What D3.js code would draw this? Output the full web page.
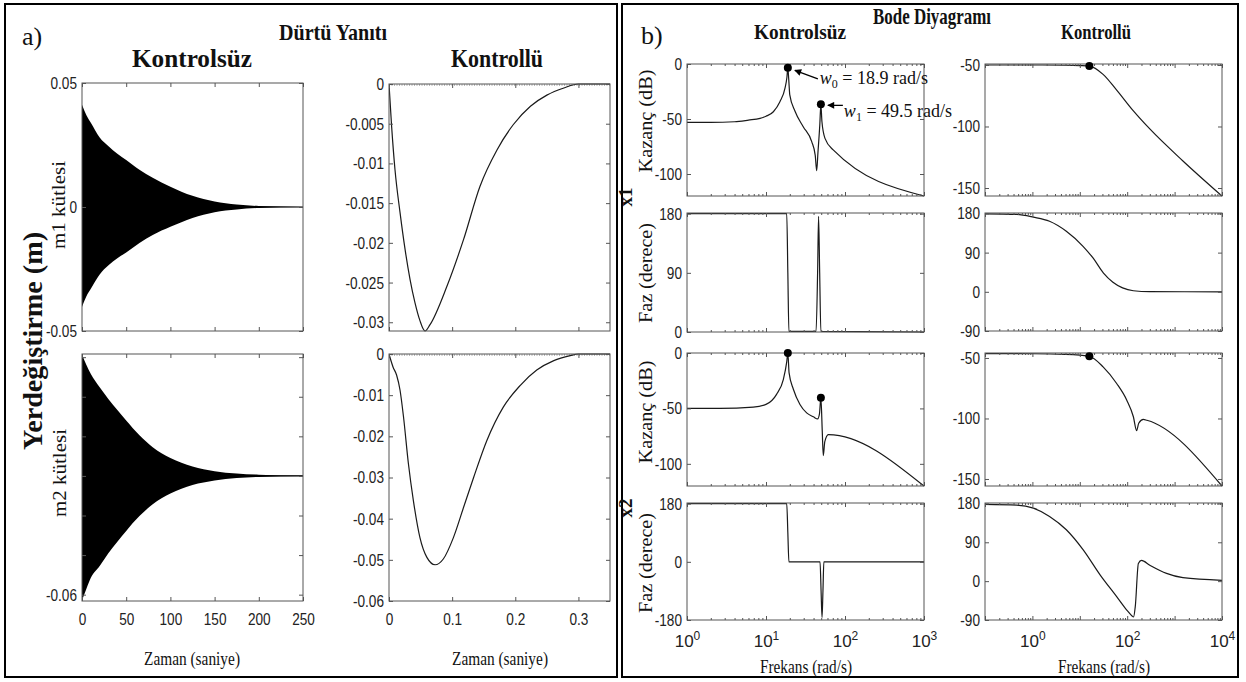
<!DOCTYPE html>
<html><head><meta charset="utf-8">
<script src="https://cdn.jsdelivr.net/npm/d3@7"></script>
<style>
body{margin:0;background:#fff}
svg{display:block}
.ax text{font-family:"Liberation Sans",Arial,sans-serif;font-size:17px;fill:#222}
.ax line{stroke:#555}
.serif{font-family:"Liberation Serif","Times New Roman",serif;fill:#111}
</style>
</head><body>
<svg id="c" width="1246" height="682"></svg>
<script>
// ---------- Impulse response (uncontrolled) envelopes ----------
const tUnc   = [0,5,10,20,30,40,50,65,80,100,125,150,175,200,250];
const m1Upper = [0.0412,0.037,0.034,0.028,0.0245,0.0215,0.019,0.015,0.0118,0.0082,0.0045,0.0022,0.001,0.0004,0.00005];
const m1Lower = [-0.0403,-0.036,-0.033,-0.0272,-0.0235,-0.0207,-0.0183,-0.0145,-0.0113,-0.008,-0.0044,-0.0021,-0.001,-0.0004,-0.00005];
const m2Upper = [0.0614,0.056,0.0515,0.0448,0.0388,0.0333,0.028,0.0205,0.0145,0.0091,0.0048,0.0024,0.0012,0.0006,0.0001];
const m2Lower = [-0.063,-0.057,-0.0515,-0.0455,-0.039,-0.0333,-0.0278,-0.0203,-0.0143,-0.0089,-0.0046,-0.0023,-0.0011,-0.0005,-0.0001];

// ---------- Impulse response (controlled) ----------
const tM1c = [0,0.0042,0.0095,0.0175,0.0254,0.0333,0.041,0.049,0.057,0.065,0.0916,0.118,0.144,0.171,0.197,0.224,0.25,0.277,0.3,0.35];
const m1Ctrl = [0,-0.0054,-0.0108,-0.0162,-0.0208,-0.0246,-0.0275,-0.0298,-0.0311,-0.0303,-0.0255,-0.0196,-0.0129,-0.0083,-0.0051,-0.0028,-0.0014,-0.0005,0,0];
const tM2c = [0,0.0065,0.012,0.0175,0.023,0.0307,0.0386,0.049,0.06,0.073,0.086,0.102,0.118,0.134,0.155,0.181,0.208,0.234,0.261,0.287,0.3,0.35];
const m2Ctrl = [0,-0.0032,-0.0051,-0.0088,-0.0153,-0.0266,-0.0356,-0.0446,-0.0494,-0.0512,-0.0498,-0.0446,-0.0373,-0.03,-0.021,-0.0129,-0.0076,-0.0039,-0.0016,-0.0004,0,0];

// ---------- Bode, uncontrolled ----------
const b1MagF = [1,2,4,6,8.4,10,12.4,15,17.4,18.4,18.9,19.4,20,23.3,29.6,37.9,42,43.8,45.5,48,49.5,51,55.8,70.9,1000];
const b1MagV = [-53,-53,-52.5,-51,-49.4,-47.5,-43.4,-34.3,-22,-12,-3.5,-14,-28,-43,-57,-70.6,-83,-97,-80,-55,-36.7,-52,-67.6,-78,-120];
const b1PhF = [1,18.3,18.9,19.5,43,45,46.3,47.8,49.5,1000];
const b1PhV = [180,180,90,1,1,90,176,90,1,0];
const b2MagF = [1,2.6,6.9,10,13.6,16.6,18.3,18.9,19.6,22.2,26.9,32.7,39.8,45.1,47.5,49.5,51.5,53.1,55.5,61.5,1000];
const b2MagV = [-50,-50,-48.8,-46.4,-37.3,-23.7,-8,0,-18,-32.7,-46.4,-54,-57.6,-59.5,-55,-40.3,-70,-92.7,-80,-73.6,-120];
const b2PhF = [1,18.3,18.9,19.5,48.3,49.8,51.2,52.6,54,1000];
const b2PhV = [180,180,90,0,0,-90,-172,-90,0,0];
const b1Dots = [[18.9,-3.5],[49.5,-36.7]];
const b2Dots = [[18.9,0],[49.5,-40.3]];

// ---------- Bode, controlled ----------
const c1MagF = [0.1,1,5,10,16,31,60,135,300,1500,10000];
const c1MagV = [-50,-50,-50.2,-50.5,-50.9,-57.6,-70.4,-87.3,-102,-128,-156.5];
const c1PhF = [0.1,0.47,1.05,2.3,5.2,11.7,19,31.6,50,80,135,300,10000];
const c1PhV = [179,177.7,171.5,162,139,104.5,77.7,43,22,9,2.5,0.4,0];
const c2MagF = [0.1,1,5,10,16,31,60,98,135,158,175,219,260,10000];
const c2MagV = [-46.4,-46.5,-47,-47.7,-48.6,-57.4,-71.1,-84.9,-98.6,-110,-104,-100.8,-101.5,-155.8];
const c2PhF = [0.1,0.47,1.05,2.3,5.2,11.7,27,60,98,125,136,148,172,200,300,676,1500,10000];
const c2PhV = [178,176,169,150,119,73,14,-36,-67,-80,-83,-59,41,48,37,18,8,2];
const c1Dots = [[15.9,-50.9]];
const c2Dots = [[15.9,-48.6]];

// ---------- tick values / labels ----------
const tTimeUnc = [0,50,100,150,200,250];
const tTimeUncLab = ["0","50","100","150","200","250"];
const tTimeCtl = [0,0.1,0.2,0.3];
const tTimeCtlLab = ["0","0.1","0.2","0.3"];
const yM1u = [-0.05,0,0.05], yM1uLab = ["-0.05","0","0.05"];
const yM2u = [-0.06,-0.04,-0.02,0,0.02,0.04,0.06], yM2uLab = ["-0.06","","","","","",""];
const yM1c = [-0.03,-0.025,-0.02,-0.015,-0.01,-0.005,0], yM1cLab = ["-0.03","-0.025","-0.02","-0.015","-0.01","-0.005","0"];
const yM2c = [-0.06,-0.05,-0.04,-0.03,-0.02,-0.01,0], yM2cLab = ["-0.06","-0.05","-0.04","-0.03","-0.02","-0.01","0"];
const yBmag = [-100,-50,0], yBmagLab = ["-100","-50","0"];
const yB1ph = [0,90,180], yB1phLab = ["0","90","180"];
const yB2ph = [-180,0,180], yB2phLab = ["-180","0","180"];
const yCmag = [-150,-100,-50], yCmagLab = ["-150","-100","-50"];
const yCph = [-90,0,90,180], yCphLab = ["-90","0","90","180"];
const fUnc = [1,10,100,1000], fUncExp = ["0","1","2","3"];
const fCtl = [0.1,1,10,100,1000,10000], fCtlExp = ["","0","","2","","4"];

const svg = d3.select("#c");
svg.append("rect").attr("width",1246).attr("height",682).attr("fill","#fff");

function minorTicks(dom){
  const out=[];
  for(let e=Math.round(Math.log10(dom[0])); e<Math.round(Math.log10(dom[1])); e++)
    for(let k=2;k<=9;k++) out.push(k*Math.pow(10,e));
  return out;
}

let clipN=0;
function panel(o){
  const [L,T,R,B]=o.box;
  const x=(o.log?d3.scaleLog():d3.scaleLinear()).domain(o.xDomain).range([L,R]);
  const y=d3.scaleLinear().domain(o.yDomain).range([B,T]);
  const g=svg.append("g");
  const id="cp"+(clipN++);
  g.append("clipPath").attr("id",id).append("rect").attr("x",L).attr("y",T-1).attr("width",R-L).attr("height",B-T+2);
  const plot=g.append("g").attr("clip-path",`url(#${id})`);
  const axg=g.append("g");
  axg.append("g").attr("class","ax yl").attr("transform",`translate(${L},0)`)
    .call(d3.axisLeft(y).tickValues(o.yTicks).tickSize(-4).tickPadding(5).tickFormat((d,i)=>o.yLabels[i]));
  axg.append("g").attr("class","ax").attr("transform",`translate(${R},0)`)
    .call(d3.axisRight(y).tickValues(o.yTicks).tickSize(-4).tickFormat(""));
  const xb=axg.append("g").attr("class","ax xl").attr("transform",`translate(0,${B})`)
    .call(d3.axisBottom(x).tickValues(o.xTicks).tickSize(-4).tickPadding(o.xPad||12)
      .tickFormat((d,i)=>o.xLabels?o.xLabels[i]:""));
  axg.append("g").attr("class","ax").attr("transform",`translate(0,${T})`)
    .call(d3.axisTop(x).tickValues(o.xTicks).tickSize(-4).tickFormat(""));
  if(o.log){
    const mn=minorTicks(o.xDomain);
    axg.append("g").attr("class","ax").attr("transform",`translate(0,${B})`)
      .call(d3.axisBottom(x).tickValues(mn).tickSize(-2).tickFormat(""));
    axg.append("g").attr("class","ax").attr("transform",`translate(0,${T})`)
      .call(d3.axisTop(x).tickValues(mn).tickSize(-2).tickFormat(""));
    if(o.xExp){
      xb.selectAll(".tick text").each(function(d,i){
        const t=d3.select(this); t.text(null);
        if(!o.xExp[i]) return;
        t.append("tspan").text("10");
        t.append("tspan").attr("dy","-0.55em").attr("font-size","12px").text(o.xExp[i]);
      });
    }
  }
  axg.selectAll(".domain").remove();
  g.append("rect").attr("x",L).attr("y",T).attr("width",R-L).attr("height",B-T)
    .attr("fill","none").attr("stroke","#555").attr("stroke-width",1);
  return {x,y,g,plot};
}

function curve(p,xs,ys){
  const data=xs.map((v,i)=>[v,ys[i]]);
  p.plot.append("path").datum(data)
    .attr("fill","none").attr("stroke","#1a1a1a").attr("stroke-width",1.2)
    .attr("d",d3.line().x(d=>p.x(d[0])).y(d=>p.y(d[1])).curve(d3.curveMonotoneX));
}
function dots(p,pts){
  p.g.selectAll(null).data(pts).enter().append("circle")
    .attr("cx",d=>p.x(d[0])).attr("cy",d=>p.y(d[1])).attr("r",4).attr("fill","#000");
}
function band(p,ts,up,lo){
  const data=ts.map((t,i)=>({t,hi:up[i],lo:lo[i]}));
  p.plot.append("path").datum(data).attr("fill","#000")
    .attr("d",d3.area().x(d=>p.x(d.t)).y0(d=>p.y(d.lo)).y1(d=>p.y(d.hi)).curve(d3.curveMonotoneX));
  const xd=p.x.domain();
  p.plot.append("line").attr("x1",p.x(xd[0])).attr("x2",p.x(xd[1])).attr("y1",p.y(0)).attr("y2",p.y(0))
    .attr("stroke","#000").attr("stroke-width",1.2);
}
function zeroDots(p){
  const xd=p.x.domain();
  p.plot.append("line").attr("x1",p.x(xd[0])).attr("x2",p.x(xd[1])).attr("y1",p.y(0)+1).attr("y2",p.y(0)+1)
    .attr("stroke","#777").attr("stroke-width",1).attr("stroke-dasharray","1,1.5");
}

// ---------- panel a) ----------
const pL1=panel({box:[82,83,303,331],xDomain:[0,250],yDomain:[-0.05,0.05],yTicks:yM1u,yLabels:yM1uLab,xTicks:tTimeUnc});
band(pL1,tUnc,m1Upper,m1Lower);
const pL2=panel({box:[82,354,303,601],xDomain:[0,250],yDomain:[-0.0632,0.0616],yTicks:yM2u,yLabels:yM2uLab,xTicks:tTimeUnc,xLabels:tTimeUncLab});
band(pL2,tUnc,m2Upper,m2Lower);
const pR1=panel({box:[389,84,610,331],xDomain:[0,0.35],yDomain:[-0.0311,0],yTicks:yM1c,yLabels:yM1cLab,xTicks:tTimeCtl});
zeroDots(pR1); curve(pR1,tM1c,m1Ctrl);
const pR2=panel({box:[389,354,610,601],xDomain:[0,0.35],yDomain:[-0.06,0],yTicks:yM2c,yLabels:yM2cLab,xTicks:tTimeCtl,xLabels:tTimeCtlLab});
zeroDots(pR2); curve(pR2,tM2c,m2Ctrl);

// ---------- panel b) ----------
const pB11=panel({box:[687,64,924,196],log:true,xDomain:[1,1000],yDomain:[-120,0],yTicks:yBmag,yLabels:yBmagLab,xTicks:fUnc});
curve(pB11,b1MagF,b1MagV); dots(pB11,b1Dots);
const pB12=panel({box:[687,213,924,332],log:true,xDomain:[1,1000],yDomain:[0,181],yTicks:yB1ph,yLabels:yB1phLab,xTicks:fUnc});
curve(pB12,b1PhF,b1PhV);
const pB21=panel({box:[687,353,924,486],log:true,xDomain:[1,1000],yDomain:[-120,0],yTicks:yBmag,yLabels:yBmagLab,xTicks:fUnc});
curve(pB21,b2MagF,b2MagV); dots(pB21,b2Dots);
const pB22=panel({box:[687,503,924,620],log:true,xDomain:[1,1000],yDomain:[-180,182],yTicks:yB2ph,yLabels:yB2phLab,xTicks:fUnc,xExp:fUncExp,xPad:15});
curve(pB22,b2PhF,b2PhV);
const pC11=panel({box:[985,64,1222,196],log:true,xDomain:[0.1,10000],yDomain:[-156.5,-49.2],yTicks:yCmag,yLabels:yCmagLab,xTicks:fCtl});
curve(pC11,c1MagF,c1MagV); dots(pC11,c1Dots);
const pC12=panel({box:[985,213,1222,331],log:true,xDomain:[0.1,10000],yDomain:[-90,181],yTicks:yCph,yLabels:yCphLab,xTicks:fCtl});
curve(pC12,c1PhF,c1PhV);
const pC21=panel({box:[985,353,1222,486],log:true,xDomain:[0.1,10000],yDomain:[-155.8,-45.9],yTicks:yCmag,yLabels:yCmagLab,xTicks:fCtl});
curve(pC21,c2MagF,c2MagV); dots(pC21,c2Dots);
const pC22=panel({box:[985,503,1222,620],log:true,xDomain:[0.1,10000],yDomain:[-90,181],yTicks:yCph,yLabels:yCphLab,xTicks:fCtl,xExp:fCtlExp,xPad:15});
curve(pC22,c2PhF,c2PhV);

// condense tick labels (narrow sans look)
svg.selectAll(".yl .tick text, .xl .tick text").each(function(){
  if(this.querySelector("tspan")) return;
  const w=this.getComputedTextLength();
  if(w>0) d3.select(this).attr("textLength",w*0.8).attr("lengthAdjust","spacingAndGlyphs");
});

// ---------- annotations ----------
const defs=svg.append("defs");
defs.append("marker").attr("id","ah").attr("viewBox","0 0 10 10").attr("refX",9).attr("refY",5)
  .attr("markerWidth",9).attr("markerHeight",7).attr("orient","auto-start-reverse").attr("markerUnits","userSpaceOnUse")
  .append("path").attr("d","M0,0 L10,5 L0,10 z").attr("fill","#000");
function annot(p,pt,head,tail,txt,sub,val){
  const cx=p.x(pt[0]), cy=p.y(pt[1]);
  svg.append("line").attr("x1",cx+tail[0]).attr("y1",cy+tail[1]).attr("x2",cx+head[0]).attr("y2",cy+head[1])
    .attr("stroke","#000").attr("stroke-width",1.3).attr("marker-end","url(#ah)");
  const t=svg.append("text").attr("class","serif").attr("x",cx+txt[0]).attr("y",cy+txt[1]).attr("font-size","18px");
  t.append("tspan").attr("font-style","italic").text("w");
  t.append("tspan").attr("dy","4").attr("font-size","12px").text(sub);
  t.append("tspan").attr("dy","-4").text(" = "+val);
}
annot(pB11,b1Dots[0],[7,2.5],[30,11],[32,16],"0","18.9 rad/s");
annot(pB11,b1Dots[1],[7,1],[22,1],[23,13],"1","49.5 rad/s");

// ---------- texts ----------
function txt(x,y,s,o={}){
  const t=svg.append("text").attr("class","serif").attr("x",x).attr("y",y).text(s)
    .attr("font-size",o.size||16).attr("font-weight",o.bold?"bold":"normal")
    .attr("text-anchor",o.anchor||"middle");
  if(o.len) t.attr("textLength",o.len).attr("lengthAdjust","spacingAndGlyphs");
  if(o.rot) t.attr("transform",`rotate(-90,${x},${y})`);
  return t;
}
// frames
svg.append("rect").attr("x",5).attr("y",4).attr("width",612).attr("height",673).attr("fill","none").attr("stroke","#000").attr("stroke-width",2);
svg.append("rect").attr("x",622).attr("y",4).attr("width",616).attr("height",673).attr("fill","none").attr("stroke","#000").attr("stroke-width",2);

txt(22,45,"a)",{size:26,anchor:"start"});
txt(333,40,"Dürtü Yanıtı",{size:24,bold:true,len:108});
txt(192,67,"Kontrolsüz",{size:26,bold:true,len:120});
txt(497,67,"Kontrollü",{size:26,bold:true,len:92});
txt(42,341,"Yerdeğiştirme (m)",{size:28,bold:true,rot:true,len:218});
txt(65,205,"m1 kütlesi",{size:19,rot:true,len:88});
txt(66,473,"m2 kütlesi",{size:19,rot:true,len:88});
txt(192,665,"Zaman (saniye)",{size:19,len:96});
txt(500,665,"Zaman (saniye)",{size:19,len:96});

txt(641,44,"b)",{size:26,anchor:"start"});
txt(932,24,"Bode Diyagramı",{size:23,bold:true,len:118});
txt(800,39,"Kontrolsüz",{size:21,bold:true,len:92});
txt(1096,39,"Kontrollü",{size:21,bold:true,len:70});
txt(652,121,"Kazanç (dB)",{size:19,rot:true,len:103});
txt(652,273,"Faz (derece)",{size:19,rot:true,len:100});
txt(652,412,"Kazanç (dB)",{size:19,rot:true,len:103});
txt(652,563,"Faz (derece)",{size:19,rot:true,len:100});
txt(632,197,"x1",{size:19,bold:true,rot:true});
txt(632,508,"x2",{size:19,bold:true,rot:true});
txt(806,673,"Frekans (rad/s)",{size:19,len:92});
txt(1104,673,"Frekans (rad/s)",{size:19,len:92});
</script>
</body></html>
